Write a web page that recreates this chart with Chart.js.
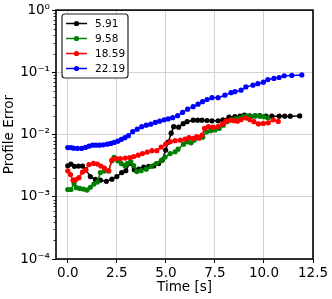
<!DOCTYPE html>
<html>
<head>
<meta charset="utf-8">
<script src="https://cdn.jsdelivr.net/npm/chart.js@4/dist/chart.umd.min.js"></script>
<style>
  html, body { margin: 0; padding: 0; background: #fff; }
  canvas { display: block; }
</style>
</head>
<body>
<canvas id="chart" width="332" height="299"></canvas>
<script>
// --- DATA ---
const seriesLabels = ['5.91', '9.58', '18.59', '22.19'];
const seriesColors = ['#000000', '#008000', '#ff0000', '#0000ff'];

const blackT = [0,0.16,0.34,0.54,0.75,0.92,1.15,1.41,1.66,1.97,2.25,2.50,2.75,2.96,3.16,3.39,3.62,3.87,4.13,4.38,4.63,4.81,4.99,5.12,5.27,5.40,5.65,5.88,6.08,6.39,6.62,6.84,7.10,7.35,7.66,7.91,8.22,8.52,8.78,9.00,9.28,9.54,9.79,10.10,10.40,10.78,11.06,11.34,11.82];
const blackV = [0.00315,0.00335,0.00308,0.00311,0.00311,0.00273,0.00211,0.00190,0.00185,0.00177,0.00192,0.00211,0.00245,0.00263,0.00347,0.00273,0.00278,0.00300,0.00308,0.00313,0.00341,0.00388,0.00562,0.00755,0.01052,0.01339,0.01314,0.01496,0.01611,0.01702,0.01702,0.01702,0.01683,0.01660,0.01660,0.01715,0.01902,0.01938,0.01974,0.02049,0.01990,0.01995,0.02010,0.01974,0.01974,0.01974,0.01974,0.01974,0.01990];

const greenT = [0,0.16,0.32,0.44,0.62,0.80,0.98,1.15,1.33,1.51,1.66,1.86,2.09,2.25,2.36,2.55,2.73,2.91,3.03,3.21,3.36,3.52,3.74,4.00,4.25,4.51,4.76,4.96,5.22,5.47,5.62,5.90,6.11,6.29,6.44,6.66,6.88,7.08,7.29,7.51,7.72,7.93,8.12,8.34,8.55,8.75,8.95,9.13,9.33,9.56,9.79,9.99,10.20];
const greenV = [0.00131,0.00131,0.00163,0.00140,0.00136,0.00133,0.00128,0.00142,0.00160,0.00172,0.00245,0.00259,0.00259,0.00381,0.00429,0.00381,0.00341,0.00317,0.00341,0.00367,0.00317,0.00254,0.00263,0.00278,0.00308,0.00341,0.00381,0.00434,0.00494,0.00527,0.00583,0.00701,0.00764,0.00736,0.00813,0.00898,0.00908,0.01105,0.01155,0.01185,0.01253,0.01416,0.01611,0.01715,0.01786,0.01846,0.01938,0.01974,0.01938,0.02011,0.01974,0.01938,0.01846];

const redT = [0,0.14,0.27,0.42,0.57,0.75,0.91,1.08,1.31,1.51,1.69,1.87,2.08,2.25,2.45,2.68,2.93,3.16,3.36,3.59,3.81,4.05,4.29,4.54,4.76,4.99,5.22,5.47,5.73,5.98,6.18,6.39,6.57,6.69,6.84,6.97,7.17,7.40,7.66,7.89,8.06,8.27,8.47,8.65,8.83,9.08,9.28,9.49,9.72,9.97,10.22,10.47,10.73];
const redV = [0.00261,0.00227,0.00185,0.00189,0.00203,0.00249,0.00268,0.00329,0.00344,0.00335,0.00311,0.00289,0.00263,0.00388,0.00413,0.00411,0.00418,0.00426,0.00442,0.00467,0.00494,0.00522,0.00551,0.00551,0.00628,0.00701,0.00769,0.00798,0.00813,0.00844,0.00892,0.00866,0.00925,0.00875,0.00978,0.01253,0.01339,0.01314,0.01346,0.01479,0.01641,0.01702,0.01672,0.01641,0.01734,0.01846,0.01734,0.01611,0.01479,0.01507,0.01541,0.01722,0.01623];

const blueT = [0,0.16,0.29,0.49,0.70,0.90,1.08,1.26,1.43,1.61,1.81,2.02,2.20,2.37,2.55,2.73,2.91,3.09,3.31,3.54,3.77,4.00,4.23,4.46,4.68,4.91,5.12,5.35,5.60,5.85,6.11,6.39,6.64,6.87,7.10,7.35,7.66,8.01,8.32,8.52,8.83,9.08,9.44,9.69,9.97,10.20,10.51,10.77,11.03,11.42,11.93];
const blueV = [0.00617,0.00617,0.00605,0.00598,0.00598,0.00621,0.00651,0.00676,0.00676,0.00676,0.00683,0.00701,0.00719,0.00747,0.00783,0.00834,0.00892,0.00960,0.01113,0.01221,0.01339,0.01416,0.01469,0.01564,0.01641,0.01722,0.01786,0.01866,0.02011,0.02264,0.02558,0.02805,0.03076,0.03373,0.03657,0.03910,0.03910,0.04288,0.04710,0.04886,0.05164,0.05834,0.06209,0.06561,0.06934,0.07656,0.0798,0.0826,0.0881,0.0892,0.0908];

const xTicks = [0, 2.5, 5, 7.5, 10, 12.5];
const yTicks = [1e-4, 1e-3, 1e-2, 1e-1, 1];

// --- HELPERS ---
const FONT = 'DejaVu Sans';
const DOT = 2.6;
const supMap = { '-': '\u207B', '0': '\u2070', '1': '\u00B9', '2': '\u00B2', '3': '\u00B3', '4': '\u2074' };
function powLabel(value) {
    const e = String(Math.round(Math.log10(value)));
    return '10' + e.split('').map(c => supMap[c]).join('');
}

function makeSeries(label, color, t, v, order) {
    return {
        label: label,
        data: t.map((x, i) => ({ x: x, y: v[i] })),
        borderColor: color,
        backgroundColor: color,
        borderWidth: 1.5,
        pointRadius: DOT,
        pointBorderWidth: 0,
        pointHoverRadius: DOT,
        tension: 0,
        order: order
    };
}

// spines + minor log ticks, drawn above the lines like matplotlib does
const framePlugin = {
    id: 'frame',
    afterDatasetsDraw(chart) {
        const { ctx, chartArea: a } = chart;
        const y = chart.scales.y;
        ctx.save();
        ctx.strokeStyle = '#000';
        ctx.lineWidth = 0.8;
        for (let d = -4; d < 0; d++) {
            for (let k = 2; k <= 9; k++) {
                const py = Math.round(y.getPixelForValue(k * Math.pow(10, d))) + 0.5;
                ctx.beginPath();
                ctx.moveTo(a.left - 2.5, py);
                ctx.lineTo(a.left, py);
                ctx.stroke();
            }
        }
        ctx.lineWidth = 1.6;
        ctx.strokeRect(a.left, a.top, a.right - a.left, a.bottom - a.top);
        ctx.restore();
    }
};

// matplotlib style legend in the upper left corner
const legendPlugin = {
    id: 'mplLegend',
    afterDraw(chart) {
        const ctx = chart.ctx;
        const bx = 62, by = 14, bw = 66, bh = 64, r = 3;
        ctx.save();
        ctx.beginPath();
        ctx.moveTo(bx + r, by);
        ctx.arcTo(bx + bw, by, bx + bw, by + bh, r);
        ctx.arcTo(bx + bw, by + bh, bx, by + bh, r);
        ctx.arcTo(bx, by + bh, bx, by, r);
        ctx.arcTo(bx, by, bx + bw, by, r);
        ctx.closePath();
        ctx.fillStyle = 'rgba(255,255,255,0.9)';
        ctx.fill();
        ctx.strokeStyle = '#222';
        ctx.lineWidth = 1.2;
        ctx.stroke();

        ctx.font = '10.5px "' + FONT + '"';
        ctx.textBaseline = 'middle';
        ctx.textAlign = 'left';
        seriesLabels.forEach((lab, i) => {
            const ry = by + 9.5 + i * 15;
            ctx.strokeStyle = seriesColors[i];
            ctx.fillStyle = seriesColors[i];
            ctx.lineWidth = 1.5;
            ctx.beginPath();
            ctx.moveTo(66, ry);
            ctx.lineTo(87, ry);
            ctx.stroke();
            ctx.beginPath();
            ctx.arc(76.5, ry, DOT, 0, Math.PI * 2);
            ctx.fill();
            ctx.fillStyle = '#000';
            ctx.fillText(lab, 95, ry + 0.5);
        });
        ctx.restore();
    }
};

// --- CHART ---
const ctx = document.getElementById('chart').getContext('2d');
new Chart(ctx, {
    type: 'line',
    data: {
        datasets: [
            makeSeries(seriesLabels[0], seriesColors[0], blackT, blackV, 4),
            makeSeries(seriesLabels[1], seriesColors[1], greenT, greenV, 3),
            makeSeries(seriesLabels[2], seriesColors[2], redT, redV, 2),
            makeSeries(seriesLabels[3], seriesColors[3], blueT, blueV, 1)
        ]
    },
    options: {
        responsive: false,
        animation: false,
        events: [],
        layout: { padding: { top: 10, right: 19, left: 0, bottom: 0 } },
        plugins: { legend: { display: false }, tooltip: { enabled: false } },
        scales: {
            x: {
                type: 'linear',
                min: -0.6,
                max: 12.5,
                afterBuildTicks: s => { s.ticks = xTicks.map(v => ({ value: v })); },
                afterFit: s => { s.height = 40; },
                ticks: {
                    color: '#000',
                    font: { family: FONT, size: 13.5 },
                    padding: 2,
                    maxRotation: 0,
                    callback: v => v.toFixed(1)
                },
                grid: { color: '#d3d3d3', lineWidth: 1, tickColor: '#000', tickLength: 4, tickWidth: 1 },
                border: { display: false },
                title: {
                    display: true,
                    text: 'Time [s]',
                    color: '#000',
                    font: { family: FONT, size: 13.5 },
                    padding: { top: 0, bottom: 3.5 }
                }
            },
            y: {
                type: 'logarithmic',
                min: 1e-4,
                max: 1,
                afterBuildTicks: s => { s.ticks = yTicks.map(v => ({ value: v })); },
                afterFit: s => { s.width = 56; },
                ticks: {
                    color: '#000',
                    font: { family: FONT, size: 13.5 },
                    padding: 2,
                    callback: v => powLabel(v)
                },
                grid: { color: '#d3d3d3', lineWidth: 1, tickColor: '#000', tickLength: 4, tickWidth: 1 },
                border: { display: false },
                title: {
                    display: true,
                    text: 'Profile Error',
                    color: '#000',
                    font: { family: FONT, size: 13.5 },
                    padding: { top: 1.5, bottom: 0 }
                }
            }
        }
    },
    plugins: [framePlugin, legendPlugin]
});
</script>
</body>
</html>
